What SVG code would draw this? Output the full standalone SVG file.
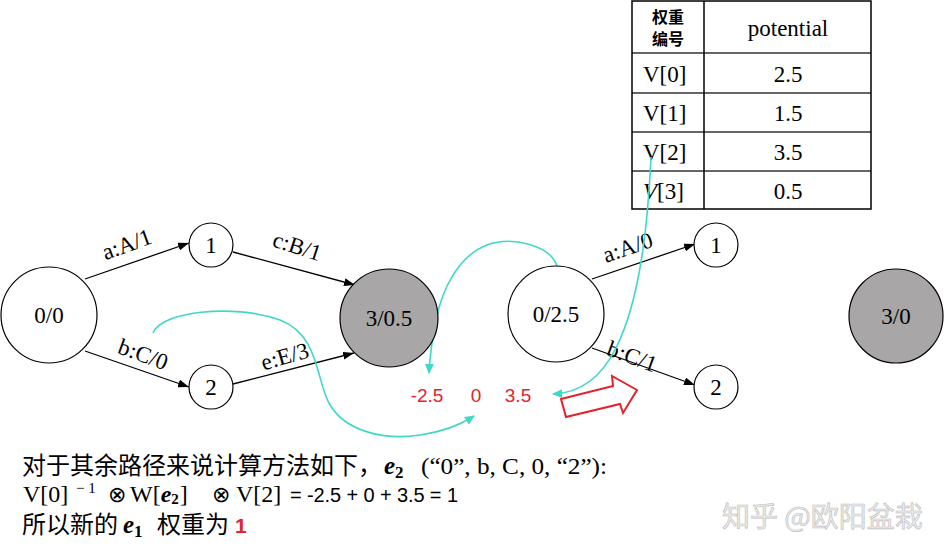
<svg xmlns="http://www.w3.org/2000/svg" width="945" height="554" viewBox="0 0 945 554">
<style>
.serif{font-family:"Liberation Serif","Times New Roman",serif;fill:#000}
.lbl{font-size:23px;text-anchor:middle}
.node{fill:#fff;stroke:#000;stroke-width:1.2}
.gray{fill:#a8a6a6;stroke:#000;stroke-width:1.2}
.edge{fill:none;stroke:#000;stroke-width:1.3;marker-end:url(#ah)}
.cy{fill:none;stroke:#3fd7c7;stroke-width:1.6;marker-end:url(#ch)}
.red{font-family:"Liberation Sans",Arial,sans-serif;font-size:19px;fill:#e3222b}
.cjk{font-family:"Noto Sans CJK SC","Noto Sans",sans-serif}
.bi{font-weight:bold;font-style:italic}
</style>
<defs>
<marker id="ah" markerUnits="userSpaceOnUse" markerWidth="11" markerHeight="8" refX="11" refY="4" orient="auto"><path d="M0,0 L11,4 L0,8 z" fill="#000"/></marker>
<marker id="ch" markerUnits="userSpaceOnUse" markerWidth="10" markerHeight="9" refX="9" refY="4.5" orient="auto"><path d="M0,0 L10,4.5 L0,9 z" fill="#3fd7c7"/></marker>
</defs>
<rect width="945" height="554" fill="#fff"/>

<!-- table -->
<g id="table">
<line x1="632" y1="53" x2="871" y2="53" stroke="#666" stroke-width="2"/>
<line x1="632" y1="93" x2="871" y2="93" stroke="#666" stroke-width="2"/>
<line x1="632" y1="132" x2="871" y2="132" stroke="#666" stroke-width="2"/>
<line x1="632" y1="171" x2="871" y2="171" stroke="#666" stroke-width="2"/>
<line x1="704" y1="1" x2="704" y2="209" stroke="#000" stroke-width="1.5"/>
<rect x="632" y="1" width="239" height="208" fill="none" stroke="#000" stroke-width="1.5"/>
<text class="cjk" x="668" y="23" font-size="16" font-weight="bold" text-anchor="middle">权重</text>
<text class="cjk" x="668" y="45" font-size="16" font-weight="bold" text-anchor="middle">编号</text>
<text class="serif" x="788" y="36" font-size="23" text-anchor="middle">potential</text>
<text class="serif" x="643" y="82" font-size="23">V[0]</text>
<text class="serif" x="643" y="121" font-size="23">V[1]</text>
<text class="serif" x="643" y="160" font-size="23">V[2]</text>
<text class="serif" x="643" y="199" font-size="23"><tspan font-style="italic">V</tspan>[3]</text>
<text class="serif" x="788" y="82" font-size="23" text-anchor="middle">2.5</text>
<text class="serif" x="788" y="121" font-size="23" text-anchor="middle">1.5</text>
<text class="serif" x="788" y="160" font-size="23" text-anchor="middle">3.5</text>
<text class="serif" x="788" y="199" font-size="23" text-anchor="middle">0.5</text>
</g>

<!-- connectors -->
<g id="connectors">
<line class="edge" x1="85" y1="279" x2="189" y2="243"/>
<line class="edge" x1="233" y1="252" x2="355" y2="285"/>
<line class="edge" x1="85" y1="351" x2="189" y2="387"/>
<line class="edge" x1="233" y1="384" x2="354" y2="353"/>
<line class="edge" x1="592" y1="279" x2="695" y2="244"/>
<line class="edge" x1="592" y1="348" x2="695" y2="385"/>
<g class="serif lbl">
<text transform="translate(127,245) rotate(-20)" y="7">a:A/1</text>
<text transform="translate(297,247) rotate(18)" y="7">c:B/1</text>
<text transform="translate(143,355) rotate(20)" y="7">b:C/0</text>
<text transform="translate(285,357) rotate(-16)" y="7">e:E/3</text>
<text transform="translate(628,248) rotate(-19)" y="7">a:A/0</text>
<text transform="translate(632,357) rotate(20)" y="7">b:C/1</text>
</g>
<path class="cy" d="M557,266 C550,245 512,236 487,245 C458,256 442,290 436,320 C432,340 430,352 429,373"/>
<path class="cy" d="M651,157 C648,220 641,298 616,348 C601,378 580,393 553,394"/>
<path class="cy" d="M153,333 C160,312 232,303 280,320 C320,335 316,382 330,405 C345,430 382,441 420,435 C442,432 460,425 474,416"/>
</g>

<!-- nodes -->
<g id="n00"><circle class="node" cx="49" cy="315" r="48"/><text class="serif lbl" x="49" y="323">0/0</text></g>
<g id="n1a"><circle class="node" cx="211" cy="245" r="22"/><text class="serif lbl" x="211" y="253">1</text></g>
<g id="n2a"><circle class="node" cx="211" cy="387" r="22"/><text class="serif lbl" x="211" y="395">2</text></g>
<g id="n3a"><circle class="gray" cx="389" cy="318" r="49"/><text class="serif lbl" x="389" y="326">3/0.5</text></g>
<g id="n0b"><circle class="node" cx="556" cy="314" r="48"/><text class="serif lbl" x="556" y="322">0/2.5</text></g>
<g id="n1b"><circle class="node" cx="716" cy="245" r="22"/><text class="serif lbl" x="716" y="253">1</text></g>
<g id="n2b"><circle class="node" cx="716" cy="387" r="22"/><text class="serif lbl" x="716" y="395">2</text></g>
<g id="n3b"><circle class="gray" cx="896" cy="316" r="47"/><text class="serif lbl" x="896" y="324">3/0</text></g>

<!-- red values and hollow arrow -->
<g id="values">
<text class="red" x="427" y="402" text-anchor="middle">-2.5</text>
<text class="red" x="476" y="402" text-anchor="middle">0</text>
<text class="red" x="518" y="402" text-anchor="middle">3.5</text>
<polygon points="561,399 613,386 612,376 637,390 623,413 620,404 566,417" fill="#fff" stroke="#e3222b" stroke-width="2"/>
</g>

<!-- explanation text -->
<g id="explain">
<text class="cjk" x="22" y="474" font-size="24">对于其余路径来说计算方法如下，</text>
<text class="serif bi" x="384" y="474" font-size="25">e<tspan font-size="17" font-style="normal" dy="4">2</tspan></text>
<text class="serif" x="421" y="474" font-size="23" textLength="186" lengthAdjust="spacingAndGlyphs">(“0”, b, C, 0, “2”):</text>

<text class="serif" x="23" y="502" font-size="24">V[0]</text>
<text class="serif" x="76" y="493" font-size="15">− 1</text>
<text class="serif" x="108" y="502" font-size="22">⊗</text>
<text class="serif" x="130" y="502" font-size="24">W[<tspan class="bi">e</tspan><tspan font-weight="bold" font-size="15" dy="2">2</tspan><tspan dx="1" dy="-2">]</tspan></text>
<text class="serif" x="212" y="502" font-size="22">⊗</text>
<text class="serif" x="236" y="502" font-size="24">V[2]</text>
<text x="290" y="502" font-family="Liberation Sans,Arial,sans-serif" font-size="20" textLength="168">= -2.5 + 0 + 3.5 = 1</text>

<text class="cjk" x="22" y="533" font-size="24">所以新的</text>
<text class="serif bi" x="123" y="533" font-size="25">e<tspan font-size="17" font-style="normal" dy="4">1</tspan></text>
<text class="cjk" x="157" y="533" font-size="24">权重为</text>
<text x="235" y="533" font-family="Liberation Sans,Arial,sans-serif" font-size="21" font-weight="bold" fill="#e3222b">1</text>
</g>

<text class="cjk" x="722" y="527" font-size="28" fill="#ececec" stroke="#bdbdbd" stroke-width="0.6">知乎 @欧阳盆栽</text>
</svg>
